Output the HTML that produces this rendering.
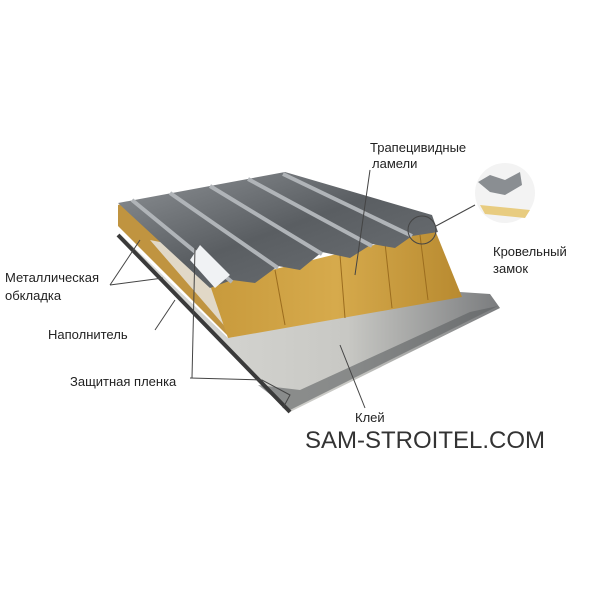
<!DOCTYPE html>
<html><head><meta charset="utf-8"><style>
html,body{margin:0;padding:0;background:#fff;width:600px;height:600px;overflow:hidden}
svg{display:block}
text{font-family:"Liberation Sans",sans-serif;fill:#222}
</style></head><body>
<svg width="600" height="600" viewBox="0 0 600 600">
<defs>
<linearGradient id="met" x1="0" y1="0" x2="1" y2="1">
<stop offset="0" stop-color="#8e9296"/><stop offset="0.5" stop-color="#5a5e62"/><stop offset="1" stop-color="#6e7276"/></linearGradient>
<linearGradient id="ins" x1="0" y1="0" x2="1" y2="0">
<stop offset="0" stop-color="#c89a3c"/><stop offset="0.5" stop-color="#d6aa4c"/><stop offset="1" stop-color="#b88a30"/></linearGradient>
<linearGradient id="bot" x1="0" y1="0" x2="1" y2="0">
<stop offset="0" stop-color="#dcdcd8"/><stop offset="0.6" stop-color="#c8c8c4"/><stop offset="1" stop-color="#7a7c7e"/></linearGradient>
</defs>
<!-- bottom sheet -->
<polygon points="118,232 290,412 500,308 490,294 460,292 228,338" fill="url(#bot)"/>
<polygon points="258,385 290,410 498,306 470,312 300,390" fill="#5e6062" opacity="0.6"/>
<line x1="118" y1="235" x2="290" y2="412" stroke="#3a3a3a" stroke-width="4"/>
<!-- insulation side -->
<polygon points="118,205 136,200 230,290 230,338 118,226" fill="#c09440"/>
<polygon points="150,240 200,250 230,290 228,330" fill="#e8e8e8" opacity="0.8"/>
<!-- insulation front -->
<polygon points="210,285 435,230 462,297 228,338" fill="url(#ins)"/>
<g stroke="#9b6c1e" stroke-width="1">
<line x1="275" y1="270" x2="285" y2="325"/>
<line x1="340" y1="255" x2="345" y2="318"/>
<line x1="385" y1="243" x2="392" y2="308"/>
<line x1="420" y1="235" x2="428" y2="300"/>
</g>
<!-- top sheet -->
<polygon points="118,203 285,172 432,215 438,232 412,236 395,248 372,244 350,258 322,252 300,270 278,266 255,283 232,280 210,288" fill="url(#met)"/>
<g stroke="#b0b4b8" stroke-width="4" fill="none">
<line x1="132" y1="200" x2="232" y2="282"/>
<line x1="170" y1="193" x2="278" y2="268"/>
<line x1="210" y1="186" x2="322" y2="254"/>
<line x1="248" y1="179" x2="372" y2="246"/>
<line x1="283" y1="174" x2="412" y2="236"/>
</g>
<polygon points="190,260 200,245 230,275 215,288" fill="#f0f2f4"/>
<circle cx="422" cy="230" r="14" fill="none" stroke="#444" stroke-width="1"/>
<!-- zoom detail -->
<circle cx="505" cy="193" r="30" fill="#f3f3f3"/>
<polygon points="478,182 490,175 505,180 520,172 522,185 505,195 490,192" fill="#8a8e92"/>
<polygon points="480,205 530,210 525,218 485,214" fill="#e8cc80"/>
<!-- leader lines -->
<g stroke="#444" stroke-width="1" fill="none">
<polyline points="370,170 355,275"/>
<line x1="436" y1="226" x2="475" y2="205"/>
<polyline points="110,285 140,240"/>
<polyline points="110,285 163,278"/>
<polyline points="155,330 175,300"/>
<polyline points="190,378 262,380 290,395 283,408"/>
<polyline points="192,378 195,248"/>
<line x1="365" y1="408" x2="340" y2="345"/>
</g>
<text x="370" y="152" font-size="13">Трапецивидные</text>
<text x="372" y="168" font-size="13">ламели</text>
<text x="493" y="256" font-size="13">Кровельный</text>
<text x="493" y="273" font-size="13">замок</text>
<text x="5" y="282" font-size="13">Металлическая</text>
<text x="5" y="300" font-size="13">обкладка</text>
<text x="48" y="339" font-size="13">Наполнитель</text>
<text x="70" y="386" font-size="13">Защитная пленка</text>
<text x="355" y="422" font-size="13">Клей</text>
<text x="305" y="448" font-size="24" style="fill:#333">SAM-STROITEL.COM</text>
</svg>
</body></html>
